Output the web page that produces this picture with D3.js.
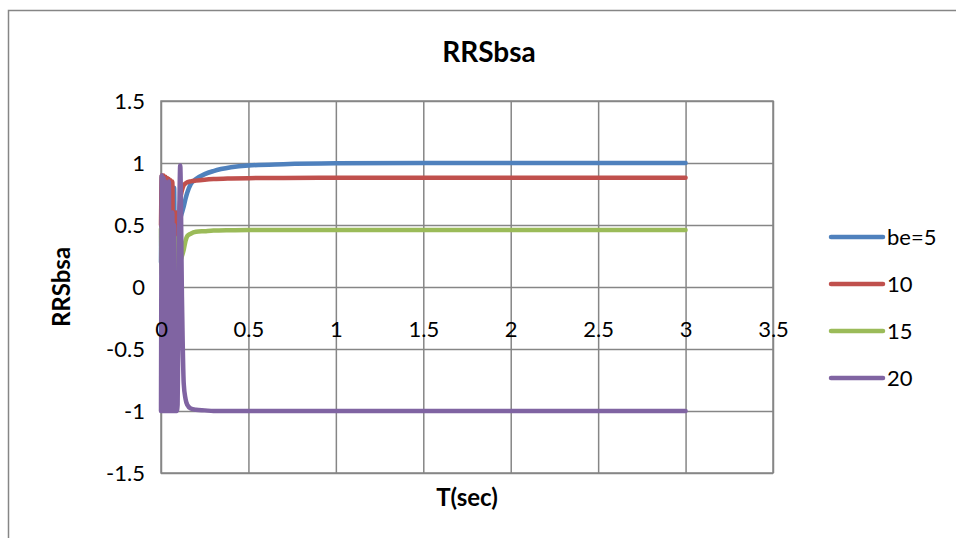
<!DOCTYPE html>
<html>
<head>
<meta charset="utf-8">
<script src="https://cdn.jsdelivr.net/npm/d3@7"></script>
<style>
  html, body { margin: 0; padding: 0; background: #fff; }
  svg { display: block; font-family: Lato, "Open Sans", sans-serif; }
</style>
</head>
<body>
<svg id="chart" width="956" height="538"></svg>
<script>
// ---- data ----
const timeSec = [0, 0.005, 0.01, 0.015, 0.02, 0.025, 0.03, 0.035, 0.04, 0.045,
  0.05, 0.055, 0.06, 0.065, 0.07, 0.075, 0.08, 0.085, 0.09, 0.095,
  0.1, 0.105, 0.11, 0.12, 0.13, 0.14, 0.15, 0.17, 0.2, 0.25,
  0.3, 0.4, 0.5, 0.7, 1.0, 1.5, 2.0, 2.5, 3.0];

const be5 = [0.2, 0.9, -0.3, 0.85, 0.1, 0.8, -0.2, 0.6, -0.5, 0.7,
  0.2, 0.8, -0.3, 0.7, 0.3, 0.8, 0.1, 0.6, 0.2, 0.4,
  0.45, 0.5, 0.55, 0.6, 0.65, 0.71, 0.76, 0.83, 0.87, 0.91,
  0.935, 0.965, 0.98, 0.99, 0.997, 1.0, 1.0, 1.0, 1.0];

const be10 = [0.5, 0.9, 0.2, 0.9, -0.1, 0.89, 0.3, 0.88, -0.2, 0.87,
  -0.4, 0.86, -0.55, 0.85, -0.8, 0.5, 0.1, 0.6, 0.3, 0.45,
  0.5, 0.6, 0.7, 0.78, 0.82, 0.835, 0.845, 0.852, 0.858, 0.865,
  0.87, 0.875, 0.878, 0.88, 0.882, 0.882, 0.882, 0.882, 0.882];

const be15 = [0.47, 0.1, 0.47, 0.03, 0.47, 0.0, 0.47, -0.2, 0.46, 0.1,
  0.46, -0.1, 0.46, -0.08, 0.45, 0.2, 0.4, 0.1, 0.3, -0.27,
  0.1, 0.15, 0.2, 0.25, 0.3, 0.37, 0.41, 0.43, 0.445, 0.45,
  0.455, 0.458, 0.46, 0.46, 0.46, 0.46, 0.46, 0.46, 0.46];

const be20 = [-1, 0.9, -1, 0.88, -1, 0.85, -1, 0.8, -1, 0.85,
  -1, 0.3, -1, 0.6, -1, 0.5, -1, -0.2, -1, -0.95,
  -0.3, 0.6, 0.98, -0.1, -0.78, -0.9, -0.95, -0.98, -0.99, -0.995,
  -1, -1, -1, -1, -1, -1, -1, -1, -1];

const seriesNames = ["be=5", "10", "15", "20"];
const seriesValues = [be5, be10, be15, be20];
const seriesColors = ["#4F81BD", "#C0504D", "#9BBB59", "#8064A2"];

const xTicks = [0, 0.5, 1, 1.5, 2, 2.5, 3, 3.5];
const yTicks = [-1.5, -1, -0.5, 0, 0.5, 1, 1.5];

const chartTitle = "RRSbsa";
const xTitle = "T(sec)";
const yTitle = "RRSbsa";

// ---- layout ----
const svg = d3.select("#chart");
const plot = { left: 161, top: 101, right: 773, bottom: 473 };
const grid = "#868686";

svg.append("rect")
  .attr("x", 8.5).attr("y", 10.5)
  .attr("width", 962).attr("height", 540)
  .attr("fill", "none").attr("stroke", grid).attr("stroke-width", 1.5);

const x = d3.scaleLinear().domain([0, 3.5]).range([plot.left, plot.right]);
const y = d3.scaleLinear().domain([-1.5, 1.5]).range([plot.bottom, plot.top]);

// y gridlines + labels
const yAxis = svg.append("g")
  .attr("transform", `translate(${plot.left},0)`)
  .call(d3.axisLeft(y).tickValues(yTicks)
    .tickSize(-(plot.right - plot.left)).tickPadding(16)
    .tickFormat(d => String(d)));
yAxis.select(".domain").remove();
yAxis.selectAll("line").attr("stroke", grid).attr("stroke-width", 1.5);
yAxis.selectAll("text").attr("font-size", 22).attr("fill", "#000")
  .attr("font-family", "Lato, sans-serif");

// x gridlines
const xGrid = svg.append("g")
  .attr("transform", `translate(0,${plot.bottom})`)
  .call(d3.axisBottom(x).tickValues(xTicks)
    .tickSize(-(plot.bottom - plot.top)).tickFormat(""));
xGrid.select(".domain").remove();
xGrid.selectAll("line").attr("stroke", grid).attr("stroke-width", 1.5);

// plot border
svg.append("rect")
  .attr("x", plot.left).attr("y", plot.top)
  .attr("width", plot.right - plot.left).attr("height", plot.bottom - plot.top)
  .attr("fill", "none").attr("stroke", grid).attr("stroke-width", 1.5);

// series lines
const line = d3.line().x((d, i) => x(timeSec[i])).y(d => y(d)).curve(d3.curveMonotoneX);
seriesValues.forEach((vals, k) => {
  svg.append("path")
    .datum(vals)
    .attr("d", line)
    .attr("fill", "none")
    .attr("stroke", seriesColors[k])
    .attr("stroke-width", 4.5)
    .attr("stroke-linejoin", "round")
    .attr("stroke-linecap", "round");
});

// x labels near the zero line (drawn over the data)
const xAxis = svg.append("g")
  .attr("transform", `translate(0,${y(0)})`)
  .call(d3.axisBottom(x).tickValues(xTicks).tickSize(0).tickPadding(34)
    .tickFormat(d => String(d)));
xAxis.select(".domain").remove();
xAxis.selectAll("text").attr("font-size", 22).attr("fill", "#000")
  .attr("font-family", "Lato, sans-serif");

// titles
const midX = (plot.left + plot.right) / 2;
svg.append("text").attr("x", 489).attr("y", 62)
  .attr("text-anchor", "middle").attr("font-size", 28).attr("font-weight", "bold")
  .text(chartTitle);
svg.append("text").attr("x", midX).attr("y", 506)
  .attr("text-anchor", "middle").attr("font-size", 24).attr("font-weight", "bold")
  .text(xTitle);
svg.append("text")
  .attr("transform", `translate(70,${(plot.top + plot.bottom) / 2}) rotate(-90)`)
  .attr("text-anchor", "middle").attr("font-size", 24).attr("font-weight", "bold")
  .text(yTitle);

// legend
const legend = svg.append("g");
seriesNames.forEach((name, k) => {
  const ly = 237 + k * 47;
  legend.append("line")
    .attr("x1", 831).attr("x2", 883).attr("y1", ly).attr("y2", ly)
    .attr("stroke", seriesColors[k]).attr("stroke-width", 4.5)
    .attr("stroke-linecap", "round");
  legend.append("text")
    .attr("x", 887).attr("y", ly + 8)
    .attr("font-size", 22).attr("fill", "#000")
    .text(name);
});
</script>
</body>
</html>
